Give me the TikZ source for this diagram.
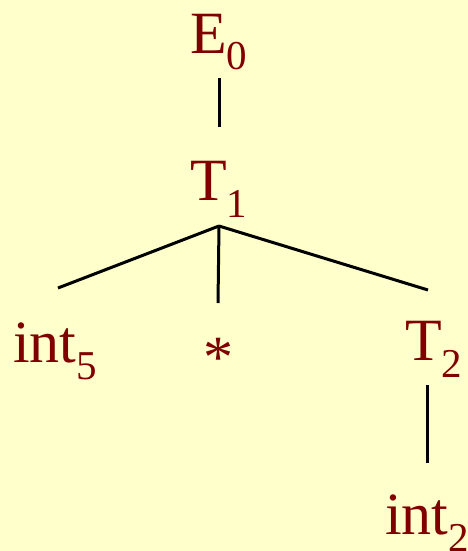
\documentclass[tikz,border=0pt]{standalone}
\usepackage{fontspec}
\setmainfont{Liberation Serif}
\definecolor{bg}{HTML}{FFFFCC}
\definecolor{sym}{HTML}{800000}
\newcommand{\mysub}[1]{\raisebox{-17pt}{\fontsize{41}{41}\selectfont #1}}
\begin{document}
\begin{tikzpicture}[x=1pt,y=-1pt,
  lbl/.style={anchor=base west,inner sep=0pt,outer sep=0pt,text=sym,font=\fontsize{60}{60}\selectfont},
  edge/.style={draw=black,line width=3pt}]
\fill[bg] (0,0) rectangle (468,551);
\useasboundingbox (0,0) rectangle (468,551);
\node[lbl] (E0) at (190,53) {E\mysub{0}};
\node[lbl] (T1) at (190,200) {T\mysub{1}};
\node[lbl] (int5) at (13,362) {int\mysub{5}};
\node[lbl] (star) at (203,377) {*};
\node[lbl] (T2) at (405,360) {T\mysub{2}};
\node[lbl] (int2) at (385,534) {int\mysub{2}};
\coordinate (e0b) at (219,78);
\coordinate (t1t) at (219,127);
\coordinate (br) at (219,226);
\coordinate (l1) at (58,288);
\coordinate (l2) at (218,303);
\coordinate (l3) at (428,290);
\coordinate (t2b) at (427,385);
\coordinate (i2t) at (427,463);
\draw[edge] (e0b) -- (t1t);
\draw[edge] (br) -- (l1);
\draw[edge] (br) -- (l2);
\draw[edge] (br) -- (l3);
\draw[edge] (t2b) -- (i2t);
\end{tikzpicture}
\end{document}
